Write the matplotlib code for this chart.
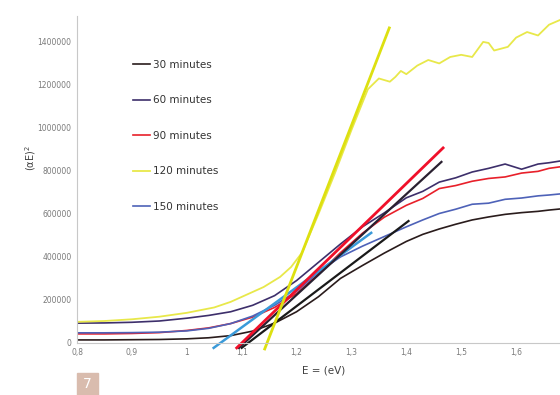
import numpy as np
import matplotlib
matplotlib.use("Agg")
import matplotlib.pyplot as plt
from matplotlib.patches import Rectangle

# photon energy grid (eV) shared by four of the series
energy = [0.80, 0.85, 0.90, 0.95, 1.00, 1.04, 1.08, 1.12, 1.16, 1.20, 1.24, 1.28,
          1.32, 1.36, 1.40, 1.43, 1.46, 1.49, 1.52, 1.55, 1.58, 1.61, 1.64, 1.66, 1.68]

min30 = [14e3, 14e3, 15e3, 16e3, 19e3, 24e3, 34e3, 55e3, 92e3, 145e3, 215e3, 300e3,
         360e3, 418e3, 472e3, 505e3, 530e3, 552e3, 572e3, 586e3, 598e3, 606e3, 612e3, 618e3, 623e3]
min60 = [92e3, 93e3, 96e3, 102e3, 115e3, 128e3, 145e3, 175e3, 220e3, 290e3, 375e3, 460e3,
         540e3, 605e3, 675e3, 705e3, 748e3, 768e3, 795e3, 812e3, 832e3, 808e3, 832e3, 838e3, 846e3]
min90 = [42e3, 42e3, 44e3, 48e3, 58e3, 70e3, 90e3, 120e3, 165e3, 230e3, 320e3, 420e3,
         510e3, 585e3, 640e3, 672e3, 718e3, 732e3, 752e3, 765e3, 772e3, 790e3, 798e3, 812e3, 819e3]
min150 = [47e3, 47e3, 48e3, 50e3, 56e3, 68e3, 90e3, 125e3, 175e3, 240e3, 330e3, 400e3,
          450e3, 495e3, 540e3, 572e3, 602e3, 622e3, 645e3, 650e3, 668e3, 674e3, 684e3, 688e3, 693e3]

# 120 minutes has its own grid (steep rise then noisy plateau)
energy120 = [0.80, 0.85, 0.90, 0.95, 1.00, 1.05, 1.08, 1.14, 1.17, 1.19, 1.21, 1.24, 1.27,
             1.30, 1.33, 1.35, 1.37, 1.38, 1.39, 1.40, 1.42, 1.44, 1.46, 1.48, 1.50, 1.52,
             1.54, 1.55, 1.56, 1.585, 1.60, 1.62, 1.64, 1.66, 1.68]
min120 = [98e3, 102e3, 110e3, 122e3, 140e3, 165e3, 191e3, 260e3, 307e3, 353e3, 420e3, 600e3, 790e3,
          990e3, 1180e3, 1230e3, 1215e3, 1237e3, 1265e3, 1250e3, 1290e3, 1316e3, 1300e3, 1330e3, 1340e3, 1330e3,
          1400e3, 1395e3, 1360e3, 1377e3, 1420e3, 1446e3, 1430e3, 1480e3, 1502e3]

# linear fits (Tauc extrapolations): start/end energy and value
fit_e = {"30": [1.100, 1.404], "60": [1.095, 1.464], "90": [1.091, 1.467],
         "120": [1.142, 1.369], "150": [1.049, 1.336]}
fit_v = {"30": [-23e3, 567e3], "60": [-23e3, 842e3], "90": [-23e3, 907e3],
         "120": [-28e3, 1465e3], "150": [-23e3, 512e3]}

labels = ["30 minutes", "60 minutes", "90 minutes", "120 minutes", "150 minutes"]
xticks = [0.8, 0.9, 1.0, 1.1, 1.2, 1.3, 1.4, 1.5, 1.6]
xticklabels = ["0,8", "0,9", "1", "1,1", "1,2", "1,3", "1,4", "1,5", "1,6"]
yticks = [0, 200000, 400000, 600000, 800000, 1000000, 1200000, 1400000]

fig = plt.figure(figsize=(5.6, 3.95), dpi=100)
ax = fig.add_axes([0.1375, 0.1046, 0.8625, 0.8546])

l30, = ax.plot(energy, min30, color="#2a1c1c", lw=1.2)
l60, = ax.plot(energy, min60, color="#3d2f6b", lw=1.2)
l90, = ax.plot(energy, min90, color="#e8202a", lw=1.2)
l120, = ax.plot(energy120, min120, color="#e8e84a", lw=1.3)
l150, = ax.plot(energy, min150, color="#4e62b8", lw=1.2)

ax.plot(fit_e["150"], fit_v["150"], color="#3a9ad9", lw=1.8)
ax.plot(fit_e["30"], fit_v["30"], color="#1a1a1a", lw=1.6)
ax.plot(fit_e["60"], fit_v["60"], color="#2a2030", lw=1.6)
ax.plot(fit_e["90"], fit_v["90"], color="#f0102a", lw=2.0)
ax.plot(fit_e["120"], fit_v["120"], color="#dde010", lw=2.0)

ax.set_xlim(0.8, 1.68)
ax.set_ylim(-50000, 1520000)
ax.set_xticks(xticks)
ax.set_xticklabels(xticklabels)
ax.set_yticks(yticks)
ax.set_yticklabels([str(t) for t in yticks])
ax.tick_params(length=0, labelsize=5.5, labelcolor="#7a7a7a", pad=4)

for s in ["top", "right"]:
    ax.spines[s].set_visible(False)
ax.spines["left"].set_color("#c8c8c8")
ax.spines["left"].set_bounds(0, 1520000)
ax.spines["bottom"].set_position(("data", 0))
ax.spines["bottom"].set_color("#c8c8c8")

ax.text(0.51, -0.035, "E = (eV)", transform=ax.transAxes, fontsize=7.5,
        color="#404040", ha="center", va="top")
fig.text(0.055, 0.6, "(\u03b1E)$^2$", rotation=90, fontsize=7, color="#404040",
         ha="center", va="center")

ax.legend([l30, l60, l90, l120, l150], labels, loc="upper left",
          bbox_to_anchor=(0.097, 0.898), frameon=False, fontsize=7.5,
          labelspacing=2.45, handlelength=1.6, handletextpad=0.3,
          labelcolor="#333333")

fig.patches.append(Rectangle((77 / 560, 0), 21 / 560, 22 / 395,
                             transform=fig.transFigure, color="#d9bcae", zorder=0))
fig.text(87.5 / 560, 11 / 395, "7", color="white", fontsize=10, ha="center", va="center")

fig.savefig("out.png", dpi=100)
